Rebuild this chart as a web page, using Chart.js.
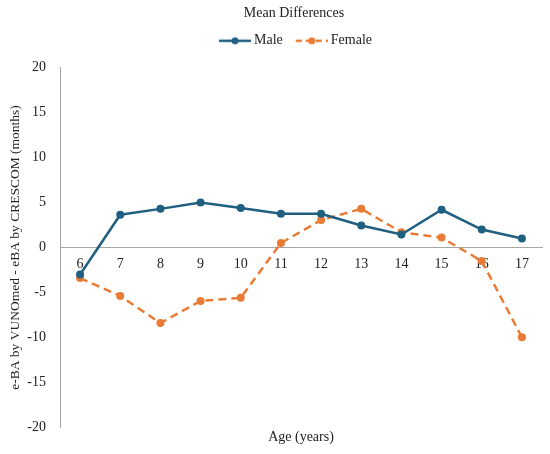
<!DOCTYPE html>
<html>
<head>
<meta charset="utf-8">
<script src="https://cdn.jsdelivr.net/npm/chart.js@4.4.0/dist/chart.umd.min.js"></script>
<style>
  html, body { margin: 0; padding: 0; background: #fff; }
  #wrap { width: 550px; height: 454px; }
</style>
</head>
<body>
<div id="wrap"><canvas id="chart"></canvas></div>
<script>
// Ages on the x axis
const ages = ['6', '7', '8', '9', '10', '11', '12', '13', '14', '15', '16', '17'];

// Mean differences (months)
const maleDiff = [-3.0, 3.65, 4.3, 5.0, 4.4, 3.75, 3.75, 2.45, 1.45, 4.2, 2.0, 1.0];
const femaleDiff = [-3.4, -5.4, -8.4, -5.95, -5.6, 0.5, 3.05, 4.3, 1.7, 1.1, -1.5, -10.0];

const maleColor = '#1f5f80';
const femaleColor = '#ea7b36';
const textColor = '#222';
const serif = "'Liberation Serif', 'Times New Roman', serif";

// Legend swatch: a line with a dot, drawn on the right part of the image
const makeSwatch = (color, dashed) => {
    const c = document.createElement('canvas');
    c.width = 39;
    c.height = 10;
    const g = c.getContext('2d');
    g.strokeStyle = color;
    g.lineWidth = 2.5;
    if (dashed) g.setLineDash([6, 4]);
    g.beginPath();
    g.moveTo(7, 5);
    g.lineTo(39, 5);
    g.stroke();
    g.fillStyle = color;
    g.beginPath();
    g.arc(23, 5, 3.5, 0, Math.PI * 2);
    g.fill();
    return c;
};

const swatches = [makeSwatch(maleColor, false), makeSwatch(femaleColor, true)];

// Extra space under the legend and a small shift of title + legend to the right
const headerTweaks = {
    id: 'headerTweaks',
    beforeLayout(chart) {
        const legend = chart.legend;
        if (legend && !legend._patched) {
            const fit = legend.fit;
            legend.fit = function () {
                fit.call(this);
                this.height += 10;
            };
            legend._patched = true;
        }
    },
    afterLayout(chart) {
        const shift = 21;
        [chart.titleBlock, chart.legend].forEach(box => {
            if (box) {
                box.left += shift;
                box.right += shift;
            }
        });
    },
};

new Chart(document.getElementById('chart').getContext('2d'), {
    type: 'line',
    data: {
        labels: ages,
        datasets: [
            {
                label: 'Male',
                data: maleDiff,
                borderColor: maleColor,
                backgroundColor: maleColor,
                borderWidth: 2.5,
                pointRadius: 4,
                pointBackgroundColor: maleColor,
                pointBorderWidth: 0,
                tension: 0,
            },
            {
                label: 'Female',
                data: femaleDiff,
                borderColor: femaleColor,
                backgroundColor: femaleColor,
                borderWidth: 2.5,
                borderDash: [8, 5],
                pointRadius: 4,
                pointBackgroundColor: femaleColor,
                pointBorderWidth: 0,
                tension: 0,
            },
        ],
    },
    options: {
        responsive: true,
        maintainAspectRatio: false,
        animation: false,
        layout: {
            padding: { left: 4, right: 8, top: 3, bottom: 8 },
        },
        plugins: {
            title: {
                display: true,
                text: 'Mean Differences',
                color: textColor,
                font: { family: serif, size: 14, weight: 'normal' },
                padding: { top: 2, bottom: 2 },
            },
            legend: {
                position: 'top',
                labels: {
                    usePointStyle: true,
                    pointStyleWidth: 31,
                    color: textColor,
                    font: { family: serif, size: 14 },
                    padding: 10,
                    generateLabels: (chart) => chart.data.datasets.map((ds, i) => ({
                        text: ds.label,
                        pointStyle: swatches[i],
                        fillStyle: ds.borderColor,
                        strokeStyle: ds.borderColor,
                        lineWidth: 0,
                        datasetIndex: i,
                        hidden: false,
                        fontColor: textColor,
                    })),
                },
            },
            tooltip: { enabled: false },
        },
        scales: {
            x: {
                type: 'category',
                position: { y: 0 },
                offset: true,
                grid: { display: false, drawTicks: false },
                border: { display: true, color: '#a6a6a6', width: 1 },
                ticks: {
                    color: textColor,
                    font: { family: serif, size: 14 },
                    padding: 8,
                    maxRotation: 0,
                },
            },
            xTitle: {
                type: 'category',
                position: 'bottom',
                offset: true,
                grid: { display: false, drawTicks: false },
                border: { display: false },
                ticks: { display: false },
                title: {
                    display: true,
                    text: 'Age (years)',
                    color: textColor,
                    font: { family: serif, size: 14 },
                    padding: { top: 2, bottom: 0 },
                },
            },
            y: {
                min: -20,
                max: 20,
                grid: { display: false, drawTicks: false },
                border: { display: true, color: '#a6a6a6', width: 1 },
                afterFit: (scale) => { scale.width = 56; },
                ticks: {
                    stepSize: 5,
                    color: textColor,
                    font: { family: serif, size: 14 },
                    padding: 14,
                },
                title: {
                    display: true,
                    text: 'e-BA by VUNOmed - eBA by CRESCOM (months)',
                    color: textColor,
                    font: { family: serif, size: 13.5 },
                    padding: { top: 3, bottom: 0 },
                },
            },
        },
    },
    plugins: [headerTweaks],
});
</script>
</body>
</html>
